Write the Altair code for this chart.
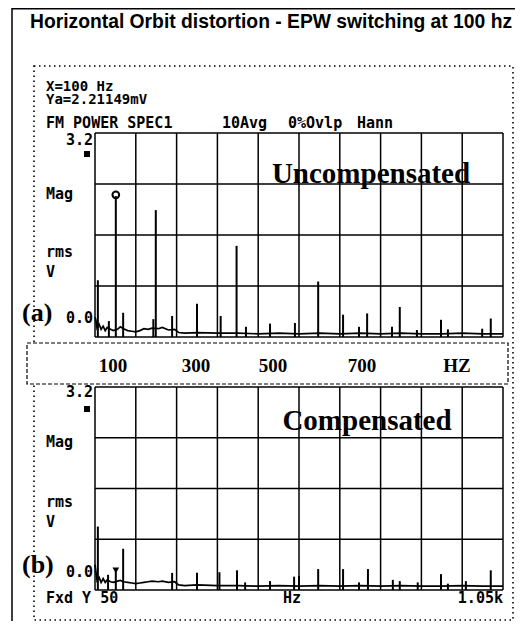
import altair as alt
import pandas as pd

# ---------------- text content ----------------
TITLE = "Horizontal Orbit distortion - EPW switching at 100 hz"
MARKER_READOUT = ["X=100 Hz", "Ya=2.21149mV"]
MEAS_HEADER = ["FM POWER SPEC1", "10Avg", "0%Ovlp", "Hann"]
Y_LABELS = ["3.2", "0.0"]
Y_UNITS = ["Mag", "rms", "V"]
PANEL_TAGS = ["(a)", "(b)"]
PANEL_NAMES = ["Uncompensated", "Compensated"]
FREQ_LABELS = ["100", "300", "500", "700", "HZ"]
X_FOOTER = ["Fxd Y 50", "Hz", "1.05k"]

# ---------------- grid (analyzer divisions) ----------------
GRID_HZ = [50, 150, 250, 350, 450, 550, 650, 750, 850, 950, 1050]
GRID_MAG = [0.0, 0.8, 1.6, 2.4, 3.2]

# ---------------- (a) uncompensated spectrum ----------------
TOP_PEAK_HZ = [57, 84, 101, 119, 193, 199, 239, 300, 358, 397, 420, 479, 540, 597,
               658, 697, 717, 778, 797, 839, 898, 915, 999, 1020]
TOP_PEAK_MAG = [0.89, 0.25, 2.21, 0.38, 0.28, 1.99, 0.33, 0.52, 0.33, 1.43, 0.16, 0.21,
                0.22, 0.87, 0.35, 0.16, 0.37, 0.16, 0.47, 0.11, 0.27, 0.12, 0.13, 0.29]
FLOOR_HZ = [50, 52, 55, 60, 65, 70, 75, 80, 88, 95, 105, 112, 120, 130, 140, 150, 160,
            170, 180, 190, 205, 215, 230, 245, 255, 270, 300, 350, 400, 450, 500, 550,
            600, 650, 700, 750, 800, 850, 900, 950, 1000, 1050]
TOP_FLOOR_MAG = [0.31, 0.27, 0.14, 0.20, 0.12, 0.17, 0.10, 0.15, 0.12, 0.10, 0.12, 0.16,
                 0.13, 0.10, 0.09, 0.08, 0.10, 0.13, 0.12, 0.14, 0.13, 0.15, 0.11, 0.12,
                 0.07, 0.06, 0.07, 0.06, 0.06, 0.05, 0.06, 0.05, 0.06, 0.05, 0.06, 0.05,
                 0.06, 0.05, 0.05, 0.06, 0.05, 0.05]
TOP_MARKER_HZ = [101]
TOP_MARKER_MAG = [2.23]

# ---------------- (b) compensated spectrum ----------------
BOT_PEAK_HZ = [57, 82, 101, 119, 239, 300, 355, 398, 418, 479, 538, 550, 597, 658, 697,
               719, 780, 797, 841, 898, 915, 959, 1020]
BOT_PEAK_MAG = [1.00, 0.24, 0.31, 0.65, 0.27, 0.27, 0.28, 0.31, 0.12, 0.14, 0.21, 0.22,
                0.33, 0.33, 0.12, 0.33, 0.16, 0.14, 0.12, 0.25, 0.10, 0.14, 0.31]
BOT_FLOOR_MAG = [0.40, 0.30, 0.15, 0.20, 0.12, 0.18, 0.12, 0.16, 0.13, 0.12, 0.14, 0.15,
                 0.13, 0.12, 0.11, 0.10, 0.11, 0.12, 0.13, 0.14, 0.13, 0.14, 0.12, 0.13,
                 0.08, 0.07, 0.08, 0.07, 0.07, 0.06, 0.07, 0.06, 0.07, 0.06, 0.07, 0.06,
                 0.07, 0.06, 0.06, 0.07, 0.06, 0.06]
BOT_MARKER_HZ = [101]
BOT_MARKER_MAG = [0.31]

W, H = 507, 613
MONO = "DejaVu Sans Mono"
SANS = "Liberation Sans"
SERIF = "Liberation Serif"

xscale = alt.Scale(domain=[50, 1050], range=[87, 495], nice=False, zero=False)


def panel(peak_hz, peak_mag, floor_mag, mk_hz, mk_mag, y_range, shape, filled):
    ys = alt.Scale(domain=[0, 3.2], range=y_range, nice=False, zero=False)
    vgrid = alt.Chart(pd.DataFrame({"f": GRID_HZ})).mark_rule(
        color="black", strokeWidth=1.5).encode(
        x=alt.X("f:Q", scale=xscale, axis=None),
        y=alt.YDatum(0, scale=ys, axis=None),
        y2=alt.Y2Datum(3.2))
    hgrid = alt.Chart(pd.DataFrame({"m": GRID_MAG})).mark_rule(
        color="black", strokeWidth=1.5).encode(
        y=alt.Y("m:Q", scale=ys, axis=None),
        x=alt.XDatum(50, scale=xscale, axis=None),
        x2=alt.X2Datum(1050))
    floor = alt.Chart(pd.DataFrame({"f": FLOOR_HZ, "v": floor_mag})).mark_line(
        color="black", strokeWidth=1.7).encode(
        x=alt.X("f:Q", scale=xscale, axis=None),
        y=alt.Y("v:Q", scale=ys, axis=None))
    peaks = alt.Chart(pd.DataFrame({"f": peak_hz, "v": peak_mag})).mark_rule(
        color="black", strokeWidth=2).encode(
        x=alt.X("f:Q", scale=xscale, axis=None),
        y=alt.Y("v:Q", scale=ys, axis=None),
        y2=alt.Y2Datum(0))
    marker = alt.Chart(pd.DataFrame({"f": mk_hz, "v": mk_mag})).mark_point(
        shape=shape, filled=filled, color="black", size=45, strokeWidth=2,
        opacity=1).encode(
        x=alt.X("f:Q", scale=xscale, axis=None),
        y=alt.Y("v:Q", scale=ys, axis=None))
    return alt.layer(vgrid, hgrid, floor, peaks, marker)


def txt(s, x, y, font=MONO, size=15, weight="bold", align="left"):
    return alt.Chart(pd.DataFrame({"t": [s]})).mark_text(
        font=font, fontSize=size, fontWeight=weight, align=align,
        baseline="alphabetic", color="black").encode(
        x=alt.value(x), y=alt.value(y), text="t:N")


def box(x, x2, y, y2, dash, sw, fill="transparent"):
    return alt.Chart(pd.DataFrame({"a": [0]})).mark_rect(
        fill=fill, stroke="black", strokeWidth=sw, strokeDash=dash).encode(
        x=alt.value(x), x2=alt.value(x2), y=alt.value(y), y2=alt.value(y2))


outer = alt.Chart(pd.DataFrame({"a": [0]})).mark_rect(
    fill="transparent", stroke="black", strokeWidth=1.5).encode(
    x=alt.value(4), x2=alt.value(540), y=alt.value(0.8), y2=alt.value(640))

dotted = box(26, 505, 58, 612, [1.5, 3.5], 1.6)
midbox = box(19, 500, 335, 376, [4, 2], 1.2, fill="white")

top = panel(TOP_PEAK_HZ, TOP_PEAK_MAG, TOP_FLOOR_MAG, TOP_MARKER_HZ, TOP_MARKER_MAG,
            [329, 125], "circle", False)
bot = panel(BOT_PEAK_HZ, BOT_PEAK_MAG, BOT_FLOOR_MAG, BOT_MARKER_HZ, BOT_MARKER_MAG,
            [582, 379], "triangle-down", True)

texts = [
    txt(TITLE, 22, 20, font=SANS, size=19.3),
    txt(MARKER_READOUT[0], 38, 83, size=14),
    txt(MARKER_READOUT[1], 38, 96, size=14),
    txt(MEAS_HEADER[0], 38, 120),
    txt(MEAS_HEADER[1], 214, 120),
    txt(MEAS_HEADER[2], 280, 120),
    txt(MEAS_HEADER[3], 349, 120),
    # panel (a)
    txt(Y_LABELS[0], 85, 137, align="right"),
    txt(Y_UNITS[0], 38, 191),
    txt(Y_UNITS[1], 38, 249),
    txt(Y_UNITS[2], 38, 269),
    txt(Y_LABELS[1], 85, 315, align="right"),
    txt(PANEL_TAGS[0], 14, 313, font=SERIF, size=26),
    txt(PANEL_NAMES[0], 363, 175, font=SERIF, size=29, align="center"),
    # frequency strip
    txt(FREQ_LABELS[0], 105, 364, font=SERIF, size=19, align="center"),
    txt(FREQ_LABELS[1], 188, 364, font=SERIF, size=19, align="center"),
    txt(FREQ_LABELS[2], 265, 364, font=SERIF, size=19, align="center"),
    txt(FREQ_LABELS[3], 354, 364, font=SERIF, size=19, align="center"),
    txt(FREQ_LABELS[4], 449, 364, font=SERIF, size=19, align="center"),
    # panel (b)
    txt(Y_LABELS[0], 85, 389, align="right"),
    txt(Y_UNITS[0], 38, 439),
    txt(Y_UNITS[1], 38, 499),
    txt(Y_UNITS[2], 38, 519),
    txt(Y_LABELS[1], 85, 569, align="right"),
    txt(PANEL_TAGS[1], 14, 565, font=SERIF, size=26),
    txt(PANEL_NAMES[1], 359, 422, font=SERIF, size=29, align="center"),
    txt(X_FOOTER[0], 38, 595),
    txt(X_FOOTER[1], 275, 595),
    txt(X_FOOTER[2], 495, 595, align="right"),
]

square_a = alt.Chart(pd.DataFrame({"a": [0]})).mark_square(
    color="black", size=36, opacity=1).encode(x=alt.value(79), y=alt.value(146))
square_b = alt.Chart(pd.DataFrame({"a": [0]})).mark_square(
    color="black", size=36, opacity=1).encode(x=alt.value(79), y=alt.value(401))

chart = alt.layer(
    outer, dotted, midbox, top, bot, square_a, square_b, *texts
).resolve_scale(y="independent").properties(
    width=W, height=H, padding=0, autosize=alt.AutoSizeParams(type="none")
).configure_view(stroke="transparent")

chart.save("out.html", embed_options={"renderer": "svg", "actions": False})
